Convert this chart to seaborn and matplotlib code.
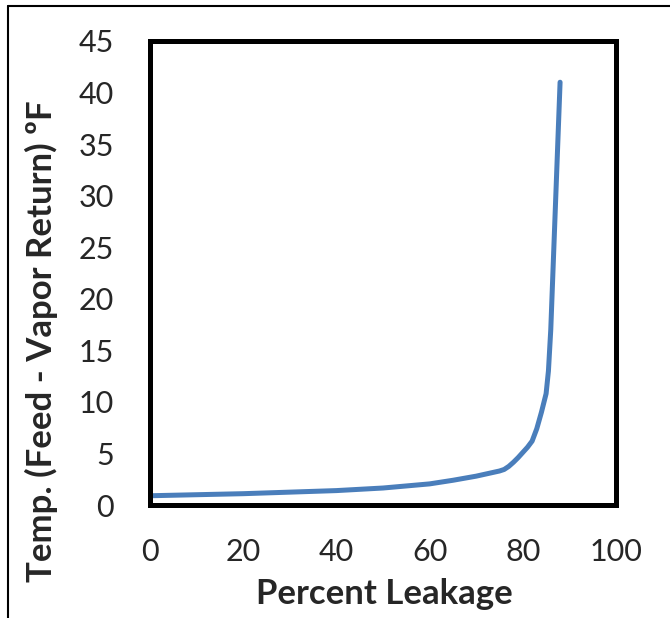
import numpy as np
import pandas as pd
import matplotlib
matplotlib.use('Agg')
import matplotlib.pyplot as plt
import seaborn as sns
from matplotlib.lines import Line2D

# values
leakage = [0, 10, 20, 30, 40, 50, 60, 65, 70, 75, 76, 77, 78, 79, 80, 81, 82, 83, 84, 85,
           85.5, 86, 86.5, 87, 87.5, 88]
temp_diff = [0.9, 1.0, 1.1, 1.25, 1.4, 1.65, 2.05, 2.4, 2.8, 3.3, 3.45, 3.75, 4.15, 4.6, 5.1,
             5.6, 6.2, 7.4, 9.0, 10.8, 13, 17, 23, 29, 35, 41]
x_ticks = [0, 20, 40, 60, 80, 100]
y_ticks = [0, 5, 10, 15, 20, 25, 30, 35, 40, 45]

sns.set_style('white')
plt.rcParams['font.family'] = ['Lato', 'DejaVu Sans']

df = pd.DataFrame({'leak': leakage, 'temp': temp_diff})

fig = plt.figure(figsize=(6.7, 6.18), dpi=100)
ax = fig.add_axes([0.2239, 0.1828, 0.6955, 0.7509])

sns.lineplot(data=df, x='leak', y='temp', ax=ax, color='#4a7ebb', linewidth=3.6,
             solid_capstyle='round', solid_joinstyle='round')

ax.set_xlim(0, 100)
ax.set_ylim(0, 45)
ax.set_xticks(x_ticks)
ax.set_yticks(y_ticks)
ax.tick_params(direction='in', length=7, width=3, color='black', labelsize=22)
ax.tick_params(axis='x', pad=24)
ax.tick_params(axis='y', pad=26)

for spine in ax.spines.values():
    spine.set_visible(True)
    spine.set_color('black')
    spine.set_linewidth(3.6)

ax.set_xlabel('Percent Leakage', fontsize=25, fontweight='bold')
ax.set_ylabel('Temp. (Feed - Vapor Return) ºF', fontsize=25, fontweight='bold')
ax.xaxis.set_label_coords(0.502, -0.158)
ax.yaxis.set_label_coords(-0.198, 0.353)

# outer frame: only top and left edges visible
fig.add_artist(Line2D([8 / 670, 1], [1 - 6 / 618, 1 - 6 / 618], transform=fig.transFigure,
                      color='black', linewidth=1.5))
fig.add_artist(Line2D([8 / 670, 8 / 670], [0, 1 - 6 / 618], transform=fig.transFigure,
                      color='black', linewidth=1.5))

fig.savefig('out.png', dpi=100)
